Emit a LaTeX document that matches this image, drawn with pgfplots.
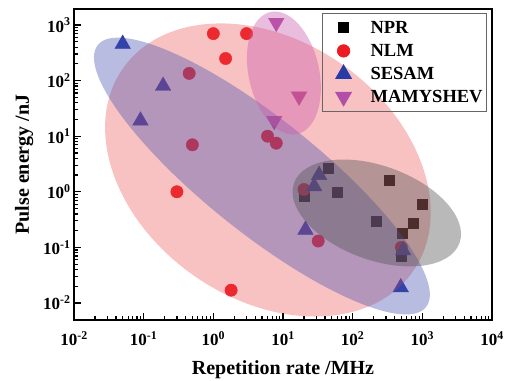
\documentclass[border=0pt]{standalone}
\usepackage{fontspec}
\setmainfont{Liberation Serif}
\usepackage{pgfplots}
\pgfplotsset{compat=1.18}
\definecolor{nlmred}{RGB}{237,28,36}
\definecolor{sesblue}{RGB}{40,60,165}
\definecolor{mamag}{RGB}{178,78,168}
\definecolor{pinkfill}{RGB}{235,70,70}
\definecolor{bluefill}{RGB}{70,80,175}
\definecolor{magfill}{RGB}{200,90,170}
\definecolor{grayfill}{RGB}{80,80,80}
\begin{document}
\begin{tikzpicture}
\useasboundingbox (-74pt,-60pt) rectangle (431pt,320pt);
\begin{axis}[
  at={(0pt,0pt)}, anchor=south west,
  width=418pt, height=311pt, scale only axis,
  xmode=log, ymode=log,
  xmin=1e-2, xmax=1e4, ymin=0.00494, ymax=1942,
  clip marker paths=true,
  xtick={1e-2,1e-1,1,1e1,1e2,1e3,1e4},
  xticklabels={10\textsuperscript{-2},10\textsuperscript{-1},10\textsuperscript{0},10\textsuperscript{1},10\textsuperscript{2},10\textsuperscript{3},10\textsuperscript{4}},
  ytick={1e-2,1e-1,1,1e1,1e2,1e3},
  yticklabels={10\textsuperscript{-2},10\textsuperscript{-1},10\textsuperscript{0},10\textsuperscript{1},10\textsuperscript{2},10\textsuperscript{3}},
  tick align=inside, xtick pos=bottom, ytick pos=left,
  major tick length=7pt, minor tick length=4pt,
  tick style={line width=1.2pt, black},
  axis line style={line width=2pt},
  ticklabel style={font=\fontsize{17}{17}\selectfont\bfseries},
  xticklabel style={yshift=-8pt},
  xlabel={Repetition rate /MHz}, ylabel={Pulse energy /nJ},
  label style={font=\fontsize{20}{20}\selectfont\bfseries},
  xlabel shift=8pt, ylabel shift=3pt,
  legend style={at={(rel axis cs:1,1)}, anchor=north east, xshift=-5pt, yshift=-4pt,
    draw=black!60, line width=0.8pt, fill=none, inner xsep=4pt, inner ysep=3pt,
    nodes={inner sep=0pt},
    font=\fontsize{18.5}{18.5}\selectfont\bfseries},
  legend cell align=left,
  /tikz/every odd column/.append style={column sep=15pt},
  legend image code/.code={\path[draw=none,fill=none] (-17pt,-11.5pt) rectangle (12pt,11.5pt);
    \draw[#1] plot coordinates {(0pt,0pt)};},
]
\addplot[black, only marks, mark=square*, mark size=5pt] coordinates {
(45,2.7) (60,1.0) (340,1.6) (20,0.85) (220,0.3) (1000,0.6) (730,0.27) (510,0.18) (490,0.07)};
\addlegendentry{NPR}
\addplot[nlmred, only marks, mark=*, mark size=6.2pt] coordinates {
(1,700) (3,700) (1.5,250) (0.45,135) (0.5,7) (0.3,1) (1.8,0.017) (6,10) (8,7.5) (20,1.1) (32,0.13) (500,0.1)};
\addlegendentry{NLM}
\addplot[sesblue, only marks, mark=triangle*, mark size=9pt] coordinates {
(0.05,455) (0.19,80) (0.09,19) (33,2.0) (28,1.25) (21,0.206) (530,0.088) (490,0.019)};
\addlegendentry{SESAM}
\addplot[mamag, only marks, mark=triangle*, mark size=9pt, mark options={rotate=180}] coordinates {
(8,1100) (17,52) (7.5,19)};
\addlegendentry{MAMYSHEV}
\fill[pinkfill, opacity=0.33, rotate around={-35:(axis cs:6.07,2.47)}] (axis cs:6.07,2.47) ellipse [x radius=177pt, y radius=129pt];
\fill[bluefill, opacity=0.38, rotate around={-38.6:(axis cs:4.98,1.92)}] (axis cs:4.98,1.92) ellipse [x radius=210pt, y radius=57pt];
\fill[magfill, opacity=0.4, rotate around={-77.7:(axis cs:10.3,137)}] (axis cs:10.3,137) ellipse [x radius=62.5pt, y radius=35.3pt];
\fill[grayfill, opacity=0.4, rotate around={-20:(axis cs:222,0.416)}] (axis cs:222,0.416) ellipse [x radius=88pt, y radius=47pt];
\end{axis}
\end{tikzpicture}
\end{document}
